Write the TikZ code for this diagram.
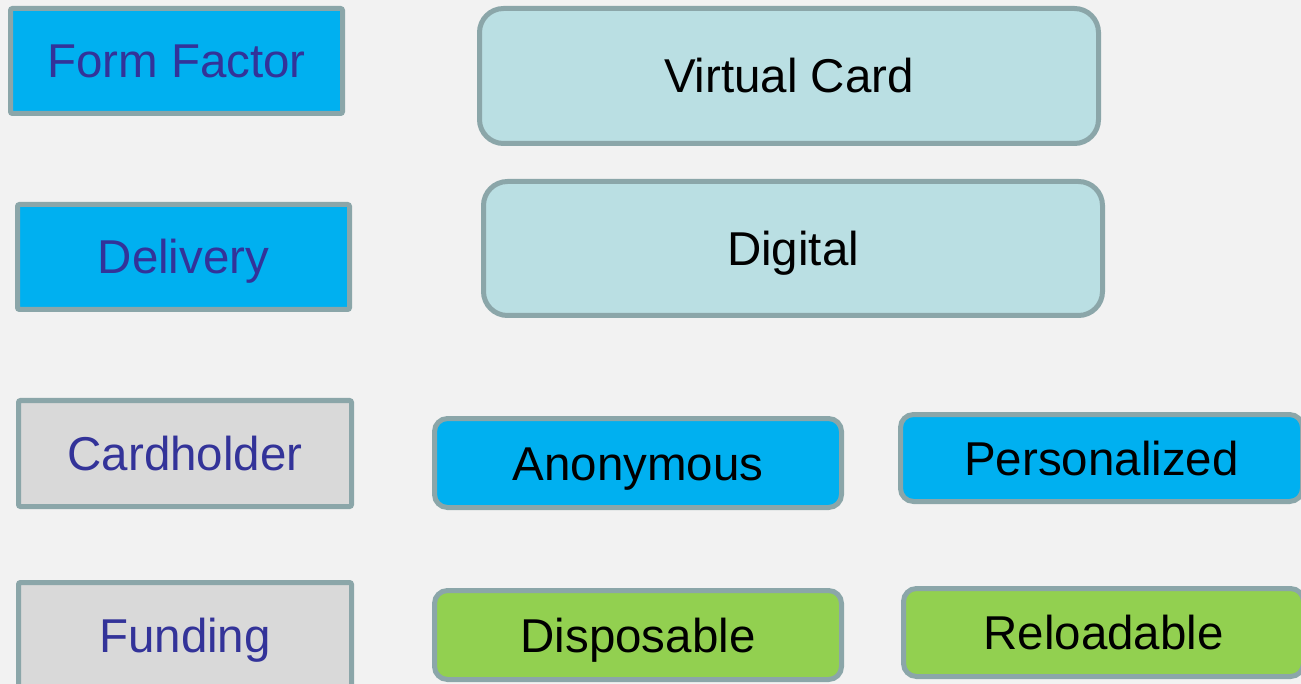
\documentclass[tikz,border=0pt]{standalone}
\usepackage{fontspec}
\setmainfont{Liberation Sans}
\usepackage{tikz}
\definecolor{bgrey}{HTML}{F2F2F2}
\definecolor{edge}{HTML}{8BA6A9}
\definecolor{cyanfill}{HTML}{00B0F0}
\definecolor{paleblue}{HTML}{BADFE3}
\definecolor{greenfill}{HTML}{92D050}
\definecolor{greyfill}{HTML}{D9D9D9}
\definecolor{headtext}{HTML}{333399}

\begin{document}
\begin{tikzpicture}[x=1pt, y=-1pt,
    box/.style={draw=edge, line width=5pt, inner sep=0pt, text height=34pt, text depth=0pt,
      font=\fontsize{47.5}{57}\selectfont},
    head/.style={box, rounded corners=2pt, text=headtext},
    item/.style={box, rounded corners=#1, text=black},
    item/.default=13pt]
      \clip (0,0) rectangle (1301,684);
      \fill[bgrey] (0,0) rectangle (1301,684);

      % left column
      \node[head, fill=cyanfill, minimum width=332pt, minimum height=105pt] (form) at (176.5,61) {Form Factor};
      \node[head, fill=cyanfill, minimum width=332pt, minimum height=105pt] (deliv) at (183.5,257) {Delivery};
      \node[head, fill=greyfill, minimum width=333pt, minimum height=106pt] (holder) at (185,453.5) {Cardholder};
      \node[head, fill=greyfill, minimum width=333pt, minimum height=105pt] (fund) at (185,635) {Funding};

      % options
      \node[item=24pt, fill=paleblue, minimum width=619pt, minimum height=135pt] (vcard) at (789,76) {Virtual Card};
      \node[item=24pt, fill=paleblue, minimum width=619pt, minimum height=134pt] (digital) at (793,248.5) {Digital};
      \node[item, fill=cyanfill, minimum width=407pt, minimum height=89pt] (anon) at (638,463) {Anonymous};
      \node[item, fill=cyanfill, minimum width=402pt, minimum height=87pt] (person) at (1101.5,458) {Personalized};
      \node[item, fill=greenfill, minimum width=407pt, minimum height=89pt] (dispos) at (638,635) {Disposable};
      \node[item, fill=greenfill, minimum width=400pt, minimum height=88pt] (reload) at (1103.5,632.5) {Reloadable};
    \end{tikzpicture}
\end{document}
